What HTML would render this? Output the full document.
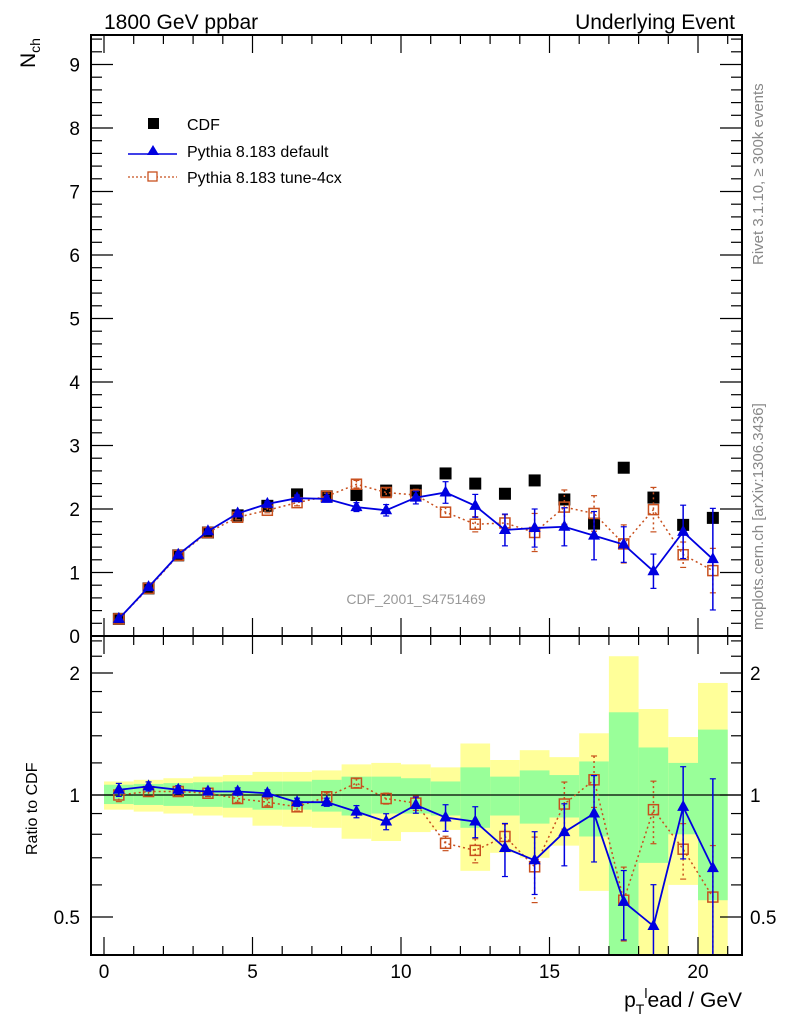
<!DOCTYPE html>
<html><head><meta charset="utf-8"><style>
body{margin:0;background:#fff}
svg{display:block;font-family:"Liberation Sans",sans-serif}
</style></head><body>
<svg id="c" width="786" height="1024" viewBox="0 0 786 1024"></svg>
<script>
const xCenters=[0.5,1.5,2.5,3.5,4.5,5.5,6.5,7.5,8.5,9.5,10.5,11.5,12.5,13.5,14.5,15.5,16.5,17.5,18.5,19.5,20.5];
const cdfValues=[0.27,0.75,1.27,1.63,1.9,2.05,2.23,2.2,2.22,2.29,2.29,2.56,2.4,2.24,2.45,2.15,1.77,2.65,2.18,1.75,1.86];
const defValues=[0.27,0.77,1.28,1.65,1.93,2.08,2.17,2.16,2.03,1.98,2.18,2.26,2.05,1.67,1.70,1.72,1.58,1.44,1.02,1.64,1.21];
const defErrors=[0.01,0.02,0.03,0.03,0.04,0.04,0.05,0.05,0.07,0.09,0.1,0.17,0.18,0.25,0.3,0.3,0.38,0.28,0.27,0.42,0.8];
const tuneValues=[0.27,0.75,1.27,1.63,1.87,1.98,2.10,2.20,2.39,2.26,2.22,1.95,1.76,1.78,1.63,2.03,1.93,1.45,1.99,1.28,1.03];
const tuneErrors=[0.01,0.02,0.03,0.03,0.04,0.04,0.05,0.05,0.06,0.07,0.09,0.08,0.12,0.13,0.3,0.27,0.28,0.3,0.35,0.2,0.35];
const defRatio=[1.03,1.05,1.03,1.02,1.02,1.01,0.96,0.96,0.91,0.86,0.945,0.88,0.86,0.74,0.69,0.81,0.90,0.545,0.475,0.935,0.66];
const tuneRatio=[1.0,1.02,1.02,1.01,0.98,0.96,0.935,0.99,1.07,0.98,0.955,0.76,0.73,0.79,0.665,0.95,1.09,0.55,0.92,0.735,0.56];
const greenHi=[1.06,1.065,1.07,1.075,1.08,1.08,1.08,1.09,1.11,1.11,1.10,1.08,1.17,1.11,1.15,1.12,1.21,1.60,1.31,1.20,1.45];
const greenLo=[0.95,0.945,0.94,0.935,0.93,0.92,0.92,0.91,0.89,0.90,0.90,0.89,0.83,0.89,0.85,0.88,0.79,0.30,0.68,0.80,0.55];
const yellowHi=[1.08,1.09,1.10,1.11,1.12,1.14,1.14,1.15,1.19,1.20,1.19,1.17,1.34,1.22,1.29,1.24,1.42,2.20,1.63,1.39,1.89];
const yellowLo=[0.92,0.91,0.90,0.89,0.88,0.84,0.835,0.83,0.78,0.77,0.81,0.82,0.65,0.72,0.70,0.75,0.58,0.30,0.30,0.60,0.30];
const mainTicks=[0,1,2,3,4,5,6,7,8,9];
const ratioTicks=[0.5,1,2];
const xTicks=[0,5,10,15,20];

const svg=document.getElementById('c');const NS='http://www.w3.org/2000/svg';
function el(t,a,p){const e=document.createElementNS(NS,t);for(const k in a)e.setAttribute(k,a[k]);(p||svg).appendChild(e);return e;}
const L=91,R=742,T1=35,B1=636,B2=955;
const X=v=>104+v*29.7;
const Y1=v=>636-v*63.5;
const Y2=r=>795-122*Math.log2(r);
const cl=(v,a,b)=>Math.max(a,Math.min(b,v));
const bands=el('g',{});

xCenters.forEach((c,i)=>{
 const x0=X(c-0.5),x1=X(c+0.5);
 const yh=cl(Y2(yellowHi[i]),T1+600,B2),yl=cl(Y2(yellowLo[i]),T1+600,B2);
 const r=el('rect',{x:x0,y:yh,width:x1-x0,height:yl-yh,fill:'#ffff99'},bands);
 
 const gh=cl(Y2(greenHi[i]),T1+600,B2),gl=cl(Y2(greenLo[i]),T1+600,B2);
 const g=el('rect',{x:x0,y:gh,width:x1-x0,height:gl-gh,fill:'#99ff99'},bands);
 
});
el('line',{x1:L,x2:R,y1:Y2(1),y2:Y2(1),stroke:'#000','stroke-width':1.2});
function series(vals,errs,color,dash,marker,name){
 const g=el('g',{});
 el('polyline',{points:xCenters.map((c,i)=>X(c)+','+Y1(vals[i])).join(' '),fill:'none',stroke:color,'stroke-width':dash?1.5:1.8,'stroke-dasharray':dash||'none'},g);
 xCenters.forEach((c,i)=>{
  const x=X(c),y=Y1(vals[i]);const e=errs[i];const ya=Y1(vals[i]+e),yb=Y1(Math.max(vals[i]-e,0));
  el('line',{x1:x,x2:x,y1:ya,y2:yb,stroke:color,'stroke-width':1.5,'stroke-dasharray':dash||'none'},g);
  el('line',{x1:x-3,x2:x+3,y1:ya,y2:ya,stroke:color,'stroke-width':1.2},g);el('line',{x1:x-3,x2:x+3,y1:yb,y2:yb,stroke:color,'stroke-width':1.2},g);
  let m;
  if(marker==='tri')m=el('polygon',{points:`${x},${y-7} ${x-6},${y+4} ${x+6},${y+4}`,fill:color},g);
  else m=el('rect',{x:x-5,y:y-5,width:10,height:10,fill:'none',stroke:color,'stroke-width':1.5},g);
  
 });
}
const cdf=el('g',{});
xCenters.forEach((c,i)=>{const r=el('rect',{x:X(c)-6,y:Y1(cdfValues[i])-6,width:12,height:12,fill:'#000'},cdf);});
series(tuneValues,tuneErrors,'#c8501e','2,3','sq','tune-4cx-series');
series(defValues,defErrors,'#0000e0',null,'tri','default-series');
const relDef=defErrors.map((e,i)=>e*defRatio[i]/defValues[i]);
const relTune=tuneErrors.map((e,i)=>e*tuneRatio[i]/tuneValues[i]);
function rseries(vals,rel,color,dash,marker,name){
 const g=el('g',{});
 el('polyline',{points:xCenters.map((c,i)=>X(c)+','+Y2(vals[i])).join(' '),fill:'none',stroke:color,'stroke-width':dash?1.5:1.8,'stroke-dasharray':dash||'none'},g);
 xCenters.forEach((c,i)=>{const x=X(c),y=Y2(vals[i]);const ya=Y2(vals[i]+rel[i]),yb=cl(Y2(Math.max(vals[i]-rel[i],0.05)),T1,B2);
  el('line',{x1:x,x2:x,y1:ya,y2:yb,stroke:color,'stroke-width':1.5,'stroke-dasharray':dash||'none'},g);
  el('line',{x1:x-3,x2:x+3,y1:ya,y2:ya,stroke:color,'stroke-width':1.2},g);if(yb<B2)el('line',{x1:x-3,x2:x+3,y1:yb,y2:yb,stroke:color,'stroke-width':1.2},g);
  let m;if(marker==='tri')m=el('polygon',{points:`${x},${y-7} ${x-6},${y+4} ${x+6},${y+4}`,fill:color},g);
  else m=el('rect',{x:x-5,y:y-5,width:10,height:10,fill:'none',stroke:color,'stroke-width':1.5},g);
  });
}
rseries(tuneRatio,relTune,'#c8501e','2,3','sq','tune-4cx-ratio');
rseries(defRatio,relDef,'#0000e0',null,'tri','default-ratio');
el('rect',{x:L,y:T1,width:R-L,height:B1-T1,fill:'none',stroke:'#000','stroke-width':2});
el('rect',{x:L,y:B1,width:R-L,height:B2-B1,fill:'none',stroke:'#000','stroke-width':2});
for(let v=0;v<=21;v++){const x=X(v),maj=v%5===0,len=maj?18:9;
 el('line',{x1:x,x2:x,y1:B2,y2:B2-len,stroke:'#000','stroke-width':1.2});
 el('line',{x1:x,x2:x,y1:B1,y2:B1-len,stroke:'#000','stroke-width':1.2});
 el('line',{x1:x,x2:x,y1:B1,y2:B1+len,stroke:'#000','stroke-width':1.2});
 el('line',{x1:x,x2:x,y1:T1,y2:T1+len,stroke:'#000','stroke-width':1.2});}
xTicks.forEach(v=>{const t=el('text',{x:X(v),y:978,'font-size':19,'text-anchor':'middle'});t.textContent=v;});
for(let k=0;k<=47;k++){const v=k*0.2,y=Y1(v);if(y<T1)continue;const maj=k%5===0,len=maj?22:11;
 el('line',{x1:L,x2:L+len,y1:y,y2:y,stroke:'#000','stroke-width':1.2});el('line',{x1:R,x2:R-len,y1:y,y2:y,stroke:'#000','stroke-width':1.2});}
mainTicks.forEach(v=>{const t=el('text',{x:80,y:Y1(v)+7,'font-size':19,'text-anchor':'end'});t.textContent=v;});
const rmin=[0.5,0.6,0.7,0.8,0.9,1,1.2,1.4,1.6,1.8,2,2.2,2.4];
rmin.forEach(r=>{const y=Y2(r);const maj=ratioTicks.includes(r),len=maj?22:11;
 el('line',{x1:L,x2:L+len,y1:y,y2:y,stroke:'#000','stroke-width':1.2});el('line',{x1:R,x2:R-len,y1:y,y2:y,stroke:'#000','stroke-width':1.2});});
ratioTicks.forEach(r=>{const t=el('text',{x:80,y:Y2(r)+7,'font-size':19,'text-anchor':'end'});t.textContent=r;
 const t2=el('text',{x:750,y:Y2(r)+7,'font-size':19});t2.textContent=r;});
</script>
<svg style="position:absolute;left:0;top:0" width="786" height="1024" font-family="Liberation Sans, sans-serif">
<text x="104" y="29" font-size="21">1800 GeV ppbar</text>
<text x="735" y="29" font-size="21" text-anchor="end">Underlying Event</text>
<text transform="translate(35,68) rotate(-90)" font-size="21">N<tspan font-size="14" dy="5">ch</tspan></text>
<text transform="translate(37,855) rotate(-90)" font-size="16">Ratio to CDF</text>
<text x="742" y="1007" font-size="21" text-anchor="end">p<tspan font-size="14" dy="7">T</tspan><tspan font-size="14" dy="-16">l</tspan><tspan font-size="21" dy="9">ead / GeV</tspan></text>
<text transform="translate(763,265) rotate(-90)" font-size="15" fill="#888">Rivet 3.1.10, ≥ 300k events</text>
<text transform="translate(763,630) rotate(-90)" font-size="15" fill="#888">mcplots.cern.ch [arXiv:1306.3436]</text>
<text x="416" y="604" font-size="14" fill="#999" text-anchor="middle">CDF_2001_S4751469</text>
<g>
<rect x="148" y="118" width="11" height="11" fill="#000"/>
<text x="187" y="130" font-size="16">CDF</text>
<line x1="128" y1="154" x2="177" y2="154" stroke="#0000e0" stroke-width="1.5"/>
<polygon points="153,145 147,155 159,155" fill="#0000e0"/>
<text x="187" y="157" font-size="16">Pythia 8.183 default</text>
<line x1="128" y1="177" x2="177" y2="177" stroke="#c8501e" stroke-width="1.2" stroke-dasharray="2,2"/>
<rect x="148" y="172" width="9" height="9" fill="#fff" stroke="#c8501e" stroke-width="1.3"/>
<text x="187" y="183" font-size="16">Pythia 8.183 tune-4cx</text>
</g>
</svg>
</body></html>
